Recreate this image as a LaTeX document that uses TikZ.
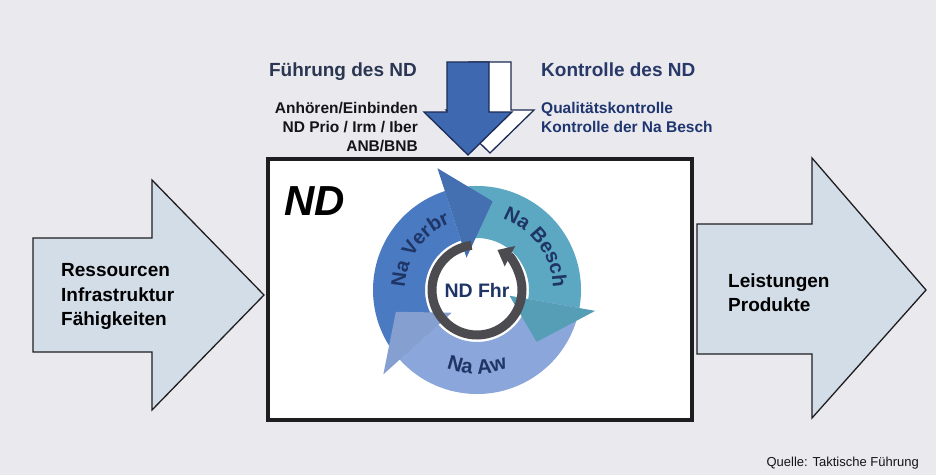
\documentclass[tikz,border=0pt]{standalone}
\usepackage{fontspec}
\setmainfont{Liberation Sans}
\usetikzlibrary{arrows.meta,decorations.text}
\definecolor{bgcol}{RGB}{234,234,238}
\definecolor{arrowfill}{RGB}{211,221,232}
\definecolor{outl}{RGB}{30,30,32}
\definecolor{downblue}{RGB}{62,104,176}
\definecolor{downoutl}{RGB}{27,43,85}
\definecolor{verbr}{RGB}{74,122,193}
\definecolor{besch}{RGB}{92,167,194}
\definecolor{aw}{RGB}{138,166,218}
\definecolor{ringdark}{RGB}{75,75,80}
\definecolor{navy}{RGB}{30,53,102}
\definecolor{titlecol}{RGB}{43,55,82}
\definecolor{titlecolb}{RGB}{40,56,104}
\definecolor{subcol}{RGB}{21,21,24}
\definecolor{subcolb}{RGB}{31,53,112}
\tikzset{
  sidearrow/.style={fill=arrowfill, draw=outl, line width=1.3pt, line join=miter},
  downarrow/.style={draw=downoutl, line width=1.3pt, line join=miter},
  sidelbl/.style={font=\fontsize{19}{19}\selectfont\bfseries, text=black, anchor=base west, inner sep=0},
  titlelbl/.style={font=\fontsize{19}{19}\selectfont\bfseries, inner sep=0},
  sublbl/.style={font=\fontsize{15.5}{15.5}\selectfont\bfseries, inner sep=0},
  ndbox/.style={draw=outl, fill=white, line width=4pt, inner sep=0},
}
\begin{document}
\begin{tikzpicture}[x=1pt,y=-1pt]
\useasboundingbox (0,0) rectangle (936,475);
\fill[bgcol] (0,0) rectangle (936,475);

% side arrows
\path[sidearrow] (33,238) -- (152,238) -- (152,180) -- (264,295) -- (152,410) -- (152,352) -- (33,352) -- cycle;
\path[sidearrow] (697,224) -- (812,224) -- (812,158) -- (926,290) -- (812,418) -- (812,354) -- (697,354) -- cycle;

% main box
\node[ndbox, minimum width=424pt, minimum height=261pt] (box) at (480,289.5) {};

% down arrows (white behind, blue in front)
\path[downarrow, fill=white] (469,62) -- (511,62) -- (511,110) -- (534,110) -- (490,153) -- (446,110) -- (469,110) -- cycle;
\path[downarrow, fill=downblue] (447,62) -- (489,62) -- (489,112) -- (512,112) -- (468,155) -- (424,112) -- (447,112) -- cycle;

% titles
\node[titlelbl, text=titlecol, anchor=base east] (fuehrung) at (417,76) {Führung des ND};
\node[titlelbl, text=titlecolb, anchor=base west] (kontrolle) at (541,76) {Kontrolle des ND};
\node[sublbl, text=subcol, anchor=base east] (f1) at (418,113.5) {Anhören/Einbinden};
\node[sublbl, text=subcol, anchor=base east] (f2) at (418,132.5) {ND Prio / Irm / Iber};
\node[sublbl, text=subcol, anchor=base east] (f3) at (418,151) {ANB/BNB};
\node[sublbl, text=subcolb, anchor=base west] (k1) at (541,113.5) {Qualitätskontrolle};
\node[sublbl, text=subcolb, anchor=base west] (k2) at (541,132.5) {Kontrolle der Na Besch};

% side labels
\node[sidelbl] (r1) at (61,276.5) {Ressourcen};
\node[sidelbl] (r2) at (61,301) {Infrastruktur};
\node[sidelbl] (r3) at (61,325.5) {Fähigkeiten};
\node[sidelbl] (l1) at (728,287) {Leistungen};
\node[sidelbl] (l2) at (728,311) {Produkte};

% ND label
\node[font=\fontsize{42}{42}\selectfont\bfseries\itshape, anchor=base west, inner sep=0] (nd) at (284,215) {ND};

% cycle
\begin{scope}[shift={(477,290)}]
  % bodies
  \fill[verbr] (-222:104) arc[start angle=-222,end angle=-108,radius=104] -- (-108:52) arc[start angle=-108,end angle=-222,radius=52] -- cycle;
  \fill[besch] (-108:104) arc[start angle=-108,end angle=10,radius=104] -- (10:52) arc[start angle=10,end angle=-108,radius=52] -- cycle;
  \fill[aw] (10:104) arc[start angle=10,end angle=138,radius=104] -- (138:52) arc[start angle=138,end angle=10,radius=52] -- cycle;
  % heads
  \fill[verbr!92!black] (-108:34) -- (-108:128) -- (-80:90) -- cycle;
  \fill[besch!94!black] (10:33) -- (10:120) -- (41:79) -- cycle;
  \fill[aw!96!black] (138:34) -- (138:126) -- (165:84) -- cycle;
  % inner dark ring
  \draw[ringdark, line width=9pt, -{Triangle[width=22pt,length=14pt]}] (-97:45) arc[start angle=-97,end angle=-423,radius=45];
  \node[font=\fontsize{19.5}{19.5}\selectfont\bfseries, text=navy, inner sep=0] (fhr) at (0,0) {ND Fhr};
  % ring texts
  \path[decorate, decoration={text along path, text align=center,
     text={|\fontsize{20}{20}\selectfont\bfseries\color{navy}|Na Verbr}}]
     (-190:72) arc[start angle=-190,end angle=-100,radius=72];
  \path[decorate, decoration={text along path, text align=center,
     text={|\fontsize{20}{20}\selectfont\bfseries\color{navy}|Na Besch}}]
     (-82:76) arc[start angle=-82,end angle=10,radius=76];
  \path[decorate, decoration={text along path, text align=center,
     text={|\fontsize{20.5}{20.5}\selectfont\bfseries\color{navy}|Na Aw}}]
     (-230:84) arc[start angle=-230,end angle=-310,radius=84];
\end{scope}

% source
\node[font=\fontsize{13}{13}\selectfont, text=subcol, anchor=base east, inner sep=0] (src) at (919,466) {Quelle: Taktische Führung};
\end{tikzpicture}
\end{document}
